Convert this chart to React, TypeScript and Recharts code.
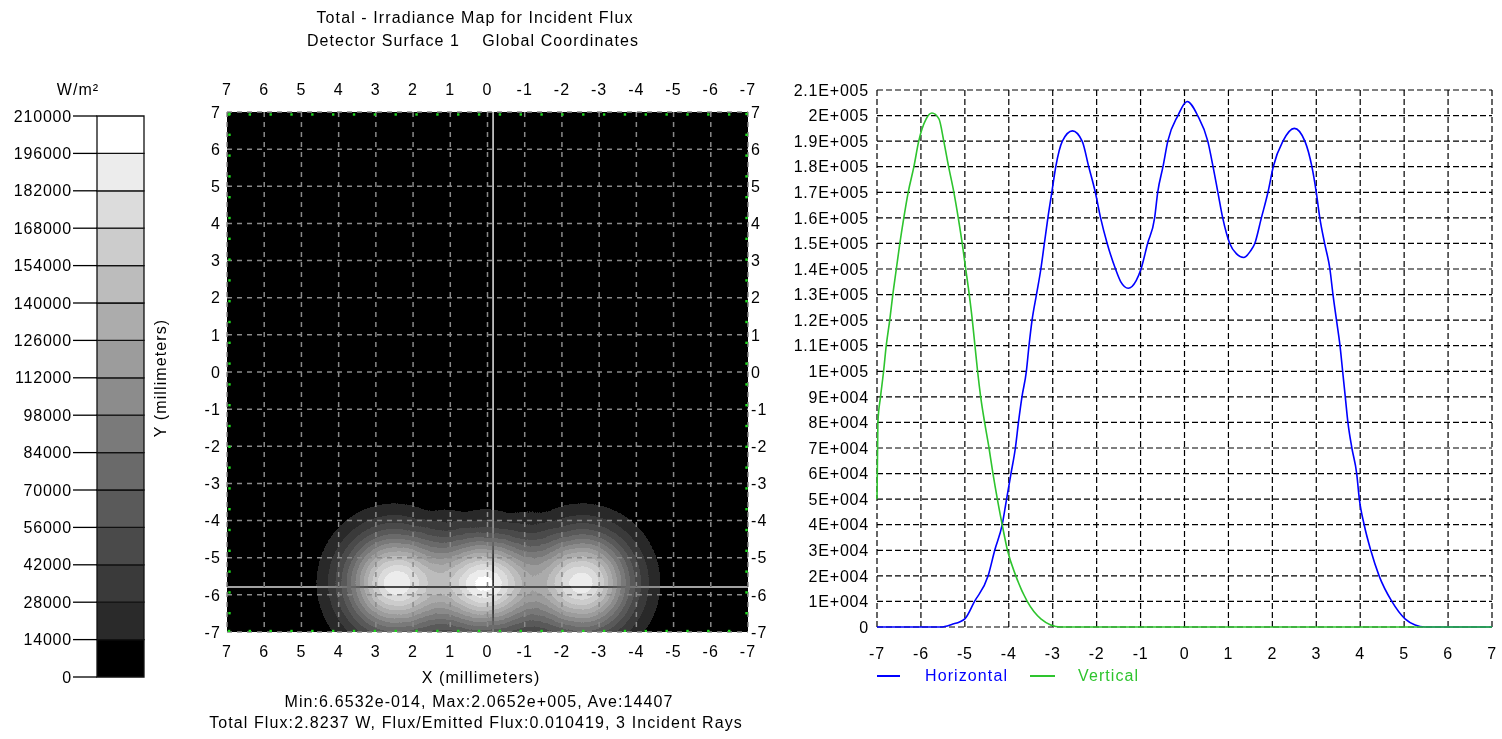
import React from "react";
import {
  BarChart,
  Bar,
  ScatterChart,
  Scatter,
  LineChart,
  Line,
  XAxis,
  YAxis,
  CartesianGrid,
  ReferenceLine,
} from "recharts";

const FONT = '"Liberation Sans", Arial, sans-serif';
const FS = 16;

// ---- colour bar (W/m²) ----
const MAX_IRR = 210000;
const BAND_TICKS = [0, 14000, 28000, 42000, 56000, 70000, 84000, 98000, 112000, 126000, 140000, 154000, 168000, 182000, 196000, 210000];
const BAND_GRAYS = ["#000000", "#2a2a2a", "#3a3a3a", "#4a4a4a", "#5a5a5a", "#6a6a6a", "#7a7a7a", "#8c8c8c", "#9c9c9c", "#acacac", "#bcbcbc", "#cccccc", "#dcdcdc", "#ececec", "#ffffff"];

// ---- irradiance map ----
const MAP_TICKS = [-7, -6, -5, -4, -3, -2, -1, 0, 1, 2, 3, 4, 5, 6, 7];
const EDGE_DOTS = [-7, -6.44, -5.88, -5.32, -4.76, -4.2, -3.64, -3.08, -2.52, -1.96, -1.4, -0.84, -0.28, 0.28, 0.84, 1.4, 1.96, 2.52, 3.08, 3.64, 4.2, 4.76, 5.32, 5.88, 6.44, 7];
// bright spots: centre (mm), peak (W/m²), spread (mm)
const SPOT_X = [2.5, 0.05, -2.55];
const SPOT_Y = [-5.68, -5.7, -5.68];
const SPOT_PEAK = [192000, 196000, 190000];
const SPOT_SX = [0.9, 0.85, 0.9];
const SPOT_SY = [0.92, 0.86, 0.92];
const CROSS_X = -0.15;
const CROSS_Y = -5.79;

// ---- profiles ----
const PROFILE_X_TICKS = [-7, -6, -5, -4, -3, -2, -1, 0, 1, 2, 3, 4, 5, 6, 7];
const PROFILE_Y_TICKS = [0, 10000, 20000, 30000, 40000, 50000, 60000, 70000, 80000, 90000, 100000, 110000, 120000, 130000, 140000, 150000, 160000, 170000, 180000, 190000, 200000, 210000];

const H_X = [-7, -6, -5.55, -5.3, -5.0, -4.78, -4.47, -4.32, -4.15, -4.05, -3.95, -3.85, -3.78, -3.7, -3.6, -3.54, -3.47, -3.37, -3.27, -3.19, -3.11, -3.02, -2.93, -2.78, -2.55, -2.33, -2.18, -2.03, -1.91, -1.76, -1.57, -1.45, -1.28, -1.1, -0.99, -0.84, -0.68, -0.61, -0.49, -0.38, -0.15, 0.06, 0.3, 0.53, 0.65, 0.76, 0.87, 1.03, 1.18, 1.35, 1.5, 1.6, 1.75, 1.9, 2.02, 2.24, 2.5, 2.74, 2.9, 3.0, 3.08, 3.19, 3.31, 3.38, 3.46, 3.54, 3.6, 3.66, 3.72, 3.81, 3.92, 3.98, 4.09, 4.24, 4.43, 4.72, 5.02, 5.25, 5.47, 6, 7];
const H_Y = [0, 0, 0, 1000, 3200, 10000, 20000, 30000, 40000, 50000, 60000, 70000, 80000, 90000, 100000, 110000, 120000, 130000, 140000, 150000, 160000, 170000, 180000, 190000, 194000, 190000, 180000, 170000, 160000, 150000, 140000, 135000, 132500, 135500, 140000, 150000, 160000, 170000, 180000, 190000, 200000, 205500, 200000, 190000, 180000, 170000, 160000, 150000, 146000, 144500, 147000, 150000, 160000, 170000, 180000, 190000, 195000, 190000, 180000, 170000, 160000, 150000, 140000, 130000, 120000, 110000, 100000, 90000, 80000, 70000, 60000, 50000, 40000, 30000, 20000, 10000, 3200, 800, 0, 0, 0];

const V_X = [-7, -6.98, -6.92, -6.85, -6.79, -6.71, -6.64, -6.56, -6.48, -6.39, -6.29, -6.16, -6.05, -5.88, -5.75, -5.59, -5.48, -5.37, -5.25, -5.15, -5.06, -4.98, -4.9, -4.83, -4.77, -4.71, -4.64, -4.55, -4.45, -4.36, -4.26, -4.15, -4.03, -3.84, -3.58, -3.27, -2.82, 7];
const V_Y = [50000, 80000, 90000, 100000, 110000, 120000, 130000, 140000, 150000, 160000, 170000, 180000, 190000, 198700, 201000, 198700, 190000, 180000, 170000, 160000, 150000, 140000, 130000, 120000, 110000, 100000, 90000, 80000, 70000, 60000, 50000, 40000, 30000, 20000, 10000, 3200, 0, 0];

const BLUE = "#0000ff";
const GREEN = "#2ec42e";

// gaussian falloff used for the spot gradients (offset = r / 3 sigma)
const GAUSS_STOPS = [
  [0, 1], [0.1, 0.956], [0.2, 0.835], [0.3, 0.667], [0.4, 0.487], [0.5, 0.325],
  [0.6, 0.198], [0.7, 0.11], [0.8, 0.056], [0.9, 0.026], [1, 0],
];

// map plot box (chart is 800 x 700)
const MAP_W = 800, MAP_H = 700;
const MAP_MARGIN = { top: 82, right: 22, bottom: 38, left: 187 };
const MAP_PLOT_W = MAP_W - MAP_MARGIN.left - MAP_MARGIN.right - 40 - 30;
const MAP_PLOT_H = MAP_H - MAP_MARGIN.top - MAP_MARGIN.bottom - 30 - 30;
const PX_X = MAP_PLOT_W / 14;
const PX_Y = MAP_PLOT_H / 14;

const bandRow: Record<string, number | string> = { name: "bar" };
BAND_GRAYS.forEach((_, i) => (bandRow[`b${i}`] = BAND_TICKS[i + 1] - BAND_TICKS[i]));

const spots = SPOT_X.map((x, i) => ({ x, y: SPOT_Y[i], peak: SPOT_PEAK[i], sx: SPOT_SX[i], sy: SPOT_SY[i] }));
const edgeDots = [
  ...EDGE_DOTS.map((t) => ({ x: t, y: 7, side: "top" })),
  ...EDGE_DOTS.map((t) => ({ x: t, y: -7, side: "bottom" })),
  ...EDGE_DOTS.map((t) => ({ x: 7, y: t, side: "left" })),
  ...EDGE_DOTS.map((t) => ({ x: -7, y: t, side: "right" })),
];
const horizontal = H_X.map((x, i) => ({ x, v: H_Y[i] }));
const vertical = V_X.map((x, i) => ({ x, v: V_Y[i] }));

const quantTable = BAND_GRAYS.map((h) => (parseInt(h.slice(1, 3), 16) / 255).toFixed(4)).join(" ");

function sci(v: number) {
  if (v === 0) return "0";
  const e = Math.floor(Math.log10(v) + 1e-9);
  const m = +(v / Math.pow(10, e)).toFixed(2);
  return `${m}E+${String(e).padStart(3, "0")}`;
}

const SpotShape = (props: any) => {
  const { cx, cy, payload } = props;
  return (
    <ellipse
      cx={cx}
      cy={cy}
      rx={payload.sx * 3 * PX_X}
      ry={payload.sy * 3 * PX_Y}
      fill="url(#spotGrad)"
      opacity={payload.peak / MAX_IRR}
      style={{ mixBlendMode: "plus-lighter" as any }}
    />
  );
};

const EdgeDot = (props: any) => {
  const { cx, cy, payload } = props;
  const dx = payload.side === "left" ? 2.5 : payload.side === "right" ? -1.5 : 2;
  const dy = payload.side === "top" ? 2.5 : payload.side === "bottom" ? -1 : 2;
  return <rect x={cx + dx - 1.2} y={cy + dy - 1.2} width={2.4} height={2.4} fill="#1ed81e" />;
};

function Txt({ x, y, children, color = "#000", anchor = "center", rotate = 0 }: any) {
  const tx = anchor === "center" ? "-50%" : "0";
  return (
    <div
      style={{
        position: "absolute",
        left: x,
        top: y,
        transform: `translate(${tx}, -50%) rotate(${rotate}deg)`,
        whiteSpace: "pre",
        color,
        fontSize: FS,
        lineHeight: 1,
      }}
    >
      {children}
    </div>
  );
}

const tickStyle = { fill: "#000", fontSize: FS };

export default function App() {
  return (
    <div
      style={{
        position: "absolute",
        left: 0,
        top: 0,
        width: 1502,
        height: 739,
        background: "#fff",
        fontFamily: FONT,
        letterSpacing: 1.1,
        overflow: "hidden",
      }}
    >
      <style>{`
        .spot-layer { filter: url(#quantize); }
        .xhair line { mix-blend-mode: difference; }
      `}</style>
      <svg width={0} height={0} style={{ position: "absolute" }}>
        <defs>
          <radialGradient id="spotGrad">
            {GAUSS_STOPS.map(([o, a]) => (
              <stop key={o} offset={o} stopColor="#fff" stopOpacity={a} />
            ))}
          </radialGradient>
          <filter id="quantize" colorInterpolationFilters="sRGB">
            <feFlood floodColor="#000" result="bg" />
            <feComposite in="SourceGraphic" in2="bg" operator="over" result="m" />
            <feComponentTransfer in="m">
              <feFuncR type="discrete" tableValues={quantTable} />
              <feFuncG type="discrete" tableValues={quantTable} />
              <feFuncB type="discrete" tableValues={quantTable} />
            </feComponentTransfer>
          </filter>
        </defs>
      </svg>

      {/* titles and captions */}
      <Txt x={475} y={18}>Total - Irradiance Map for Incident Flux</Txt>
      <Txt x={473} y={41}>{"Detector Surface 1    Global Coordinates"}</Txt>
      <Txt x={78} y={90}>W/m²</Txt>
      <Txt x={161} y={378} rotate={-90}>Y (millimeters)</Txt>
      <Txt x={481} y={678}>X (millimeters)</Txt>
      <Txt x={479} y={702}>Min:6.6532e-014, Max:2.0652e+005, Ave:14407</Txt>
      <Txt x={476} y={723}>Total Flux:2.8237 W, Flux/Emitted Flux:0.010419, 3 Incident Rays</Txt>

      {/* colour bar */}
      <div style={{ position: "absolute", left: 0, top: 0, letterSpacing: 0.8 }}>
        <BarChart
          width={170}
          height={700}
          data={[bandRow]}
          margin={{ top: 116, right: 26, bottom: 23, left: 0 }}
          barCategoryGap={0}
          barGap={0}
        >
          <XAxis dataKey="name" hide />
          <YAxis
            type="number"
            domain={[0, MAX_IRR]}
            ticks={BAND_TICKS}
            interval={0}
            width={97}
            axisLine={false}
            tickSize={24}
            tickMargin={1}
            tickLine={{ stroke: "#000", strokeWidth: 1.3 }}
            tick={tickStyle}
          />
          {BAND_GRAYS.map((c, i) => (
            <Bar
              key={c}
              dataKey={`b${i}`}
              stackId="band"
              fill={c}
              stroke="#111"
              strokeWidth={1.3}
              isAnimationActive={false}
            />
          ))}
        </BarChart>
      </div>

      {/* irradiance map */}
      <div style={{ position: "absolute", left: 0, top: 0 }}>
        <ScatterChart width={MAP_W} height={MAP_H} margin={MAP_MARGIN}>
          <CartesianGrid xAxisId="bottom" yAxisId="left" fill="#000" horizontal={false} vertical={false} />
          <XAxis
            xAxisId="bottom"
            type="number"
            dataKey="x"
            domain={[-7, 7]}
            ticks={MAP_TICKS}
            interval={0}
            reversed
            allowDataOverflow
            height={30}
            axisLine={false}
            tickLine={false}
            tickSize={0}
            tickMargin={14}
            tick={tickStyle}
          />
          <XAxis
            xAxisId="top"
            orientation="top"
            type="number"
            dataKey="x"
            domain={[-7, 7]}
            ticks={MAP_TICKS}
            interval={0}
            reversed
            allowDataOverflow
            height={30}
            axisLine={false}
            tickLine={false}
            tickSize={0}
            tickMargin={17}
            tick={tickStyle}
          />
          <YAxis
            yAxisId="left"
            type="number"
            dataKey="y"
            domain={[-7, 7]}
            ticks={MAP_TICKS}
            interval={0}
            allowDataOverflow
            width={40}
            axisLine={false}
            tickLine={false}
            tickSize={0}
            tickMargin={6}
            tick={tickStyle}
          />
          <YAxis
            yAxisId="right"
            orientation="right"
            type="number"
            dataKey="y"
            domain={[-7, 7]}
            ticks={MAP_TICKS}
            interval={0}
            allowDataOverflow
            width={30}
            axisLine={false}
            tickLine={false}
            tickSize={0}
            tickMargin={3}
            tick={tickStyle}
          />
          <Scatter
            xAxisId="bottom"
            yAxisId="left"
            data={spots}
            shape={SpotShape}
            className="spot-layer"
            isAnimationActive={false}
          />
          <CartesianGrid
            xAxisId="bottom"
            yAxisId="left"
            stroke="#8a8a8a"
            strokeWidth={1.5}
            strokeDasharray="5 5"
            horizontalValues={MAP_TICKS}
            verticalValues={MAP_TICKS}
            {...({ zIndex: 700 } as any)}
          />
          <ReferenceLine xAxisId="bottom" yAxisId="left" x={CROSS_X} stroke="#d8d8d8" strokeWidth={1.6} className="xhair" {...({ zIndex: 800 } as any)} />
          <ReferenceLine xAxisId="bottom" yAxisId="left" y={CROSS_Y} stroke="#d8d8d8" strokeWidth={1.6} className="xhair" {...({ zIndex: 800 } as any)} />
          <Scatter
            xAxisId="bottom"
            yAxisId="left"
            data={edgeDots}
            shape={EdgeDot}
            isAnimationActive={false}
            {...({ zIndex: 900 } as any)}
          />
        </ScatterChart>
      </div>

      {/* horizontal / vertical profiles */}
      <div style={{ position: "absolute", left: 760, top: 0, letterSpacing: 0.8 }}>
        <LineChart width={742} height={700} margin={{ top: 90, right: 10, bottom: 43, left: 7 }}>
          <CartesianGrid stroke="#000" strokeWidth={1.2} strokeDasharray="6 3" />
          <XAxis
            type="number"
            dataKey="x"
            domain={[-7, 7]}
            ticks={PROFILE_X_TICKS}
            interval={0}
            height={30}
            axisLine={false}
            tickLine={false}
            tickSize={0}
            tickMargin={21}
            tick={tickStyle}
            allowDuplicatedCategory={false}
          />
          <YAxis
            type="number"
            domain={[0, MAX_IRR]}
            ticks={PROFILE_Y_TICKS}
            interval={0}
            width={110}
            axisLine={false}
            tickLine={false}
            tickSize={0}
            tickMargin={8}
            tickFormatter={sci}
            tick={tickStyle}
          />
          <Line
            data={horizontal}
            dataKey="v"
            type="monotone"
            stroke={BLUE}
            strokeWidth={1.6}
            dot={false}
            isAnimationActive={false}
          />
          <Line
            data={vertical}
            dataKey="v"
            type="monotone"
            stroke={GREEN}
            strokeWidth={1.6}
            dot={false}
            isAnimationActive={false}
          />
        </LineChart>
      </div>

      {/* legend */}
      <div style={{ position: "absolute", left: 877, top: 675, width: 23, height: 2, background: BLUE }} />
      <Txt x={925} y={676} color={BLUE} anchor="left">Horizontal</Txt>
      <div style={{ position: "absolute", left: 1030, top: 675, width: 25, height: 2, background: GREEN }} />
      <Txt x={1078} y={676} color={GREEN} anchor="left">Vertical</Txt>
    </div>
  );
}
